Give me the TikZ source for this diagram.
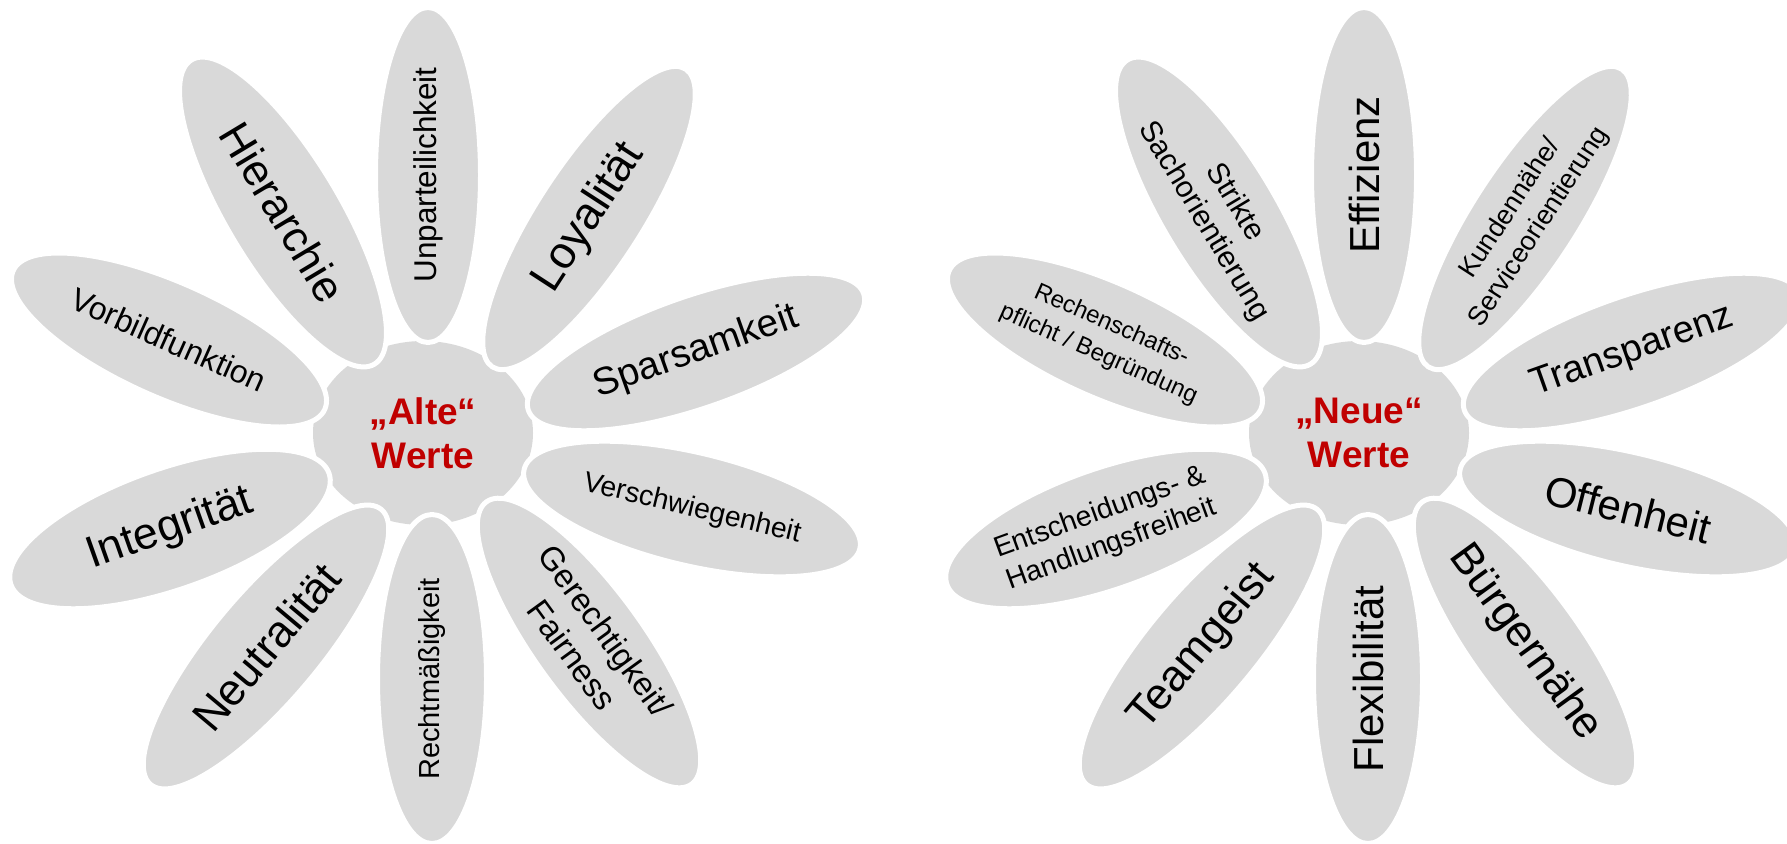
\documentclass[tikz,border=0pt]{standalone}
\usepackage{fontspec}
\setmainfont{Liberation Sans}[Ligatures=NoCommon]
\usetikzlibrary{shapes.geometric}
\definecolor{petalgray}{HTML}{D9D9D9}
\definecolor{valred}{HTML}{C00000}
\newcommand\fsz[2]{\fontsize{#1}{#2}\selectfont}
\tikzset{
  petal/.style={ellipse, fill=petalgray, draw=white, line width=5pt, inner sep=0pt},
  lbl/.style={align=center, inner sep=0pt, text=black},
  hub/.style={ellipse, fill=petalgray, draw=none, inner sep=0pt, minimum width=220pt, minimum height=184pt},
  hubtext/.style={align=center, inner sep=0pt, text=valred, font=\fsz{37}{44}\bfseries},
}
\begin{document}
\begin{tikzpicture}[x=1pt,y=-1pt]
\useasboundingbox (0,0) rectangle (1787,843);
\fill[white] (0,0) rectangle (1787,843);
\clip (0,0) rectangle (1787,843);

% ---------------- left flower ----------------
\node[hub] (hubL) at (423,433) {};
\node[petal, minimum width=335pt, minimum height=105pt, rotate=90]    (pL1)  at (428,175) {};
\node[petal, minimum width=355pt, minimum height=105pt, rotate=57]    (pL2)  at (589,218) {};
\node[petal, minimum width=355pt, minimum height=112pt, rotate=19.2]  (pL3)  at (696,352) {};
\node[petal, minimum width=345pt, minimum height=113pt, rotate=-13.3] (pL4)  at (692,509) {};
\node[petal, minimum width=349pt, minimum height=109pt, rotate=-54]   (pL5)  at (589,643) {};
\node[petal, minimum width=329pt, minimum height=109pt, rotate=90]    (pL6)  at (432,679) {};
\node[petal, minimum width=359pt, minimum height=109pt, rotate=50]    (pL7)  at (266,647) {};
\node[petal, minimum width=337pt, minimum height=121pt, rotate=19.3]  (pL8)  at (170,529) {};
\node[petal, minimum width=341pt, minimum height=115pt, rotate=-24]   (pL9)  at (169,340) {};
\node[petal, minimum width=355pt, minimum height=113pt, rotate=-59]   (pL10) at (283,212) {};

\node[hubtext] (hL) at (hubL.center) {„Alte“\\Werte};
\node[lbl, font=\fsz{31.5}{38}, rotate=90]  (tL1)  at (pL1.center)  {Unparteilichkeit};
\node[lbl, font=\fsz{45}{54},   rotate=57]  (tL2)  at (pL2.center)  {Loyalität};
\node[lbl, font=\fsz{38.5}{46}, rotate=19.5]  (tL3)  at (pL3.center)  {Sparsamkeit};
\node[lbl, font=\fsz{28.4}{34}, rotate=-13.5] (tL4)  at (pL4.center)  {Verschwiegenheit};
\node[lbl, font=\fsz{33}{41},   rotate=-54] (tL5)  at (pL5.center)  {Gerechtigkeit/\\Fairness};
\node[lbl, font=\fsz{29}{35},   rotate=90]  (tL6)  at (pL6.center)  {Rechtmäßigkeit};
\node[lbl, font=\fsz{44.5}{53}, rotate=50]  (tL7)  at (pL7.center)  {Neutralität};
\node[lbl, font=\fsz{44.5}{53}, rotate=19.5]  (tL8)  at (pL8.center)  {Integrität};
\node[lbl, font=\fsz{32}{38},   rotate=-24] (tL9)  at (pL9.center)  {Vorbildfunktion};
\node[lbl, font=\fsz{44}{53},   rotate=-59] (tL10) at (pL10.center) {Hierarchie};

% ---------------- right flower ----------------
\node[hub] (hubR) at (1359,433) {};
\node[petal, minimum width=335pt, minimum height=105pt, rotate=90]    (pR1)  at (1364,175) {};
\node[petal, minimum width=355pt, minimum height=105pt, rotate=57]    (pR2)  at (1525,218) {};
\node[petal, minimum width=355pt, minimum height=112pt, rotate=19.2]  (pR3)  at (1632,352) {};
\node[petal, minimum width=345pt, minimum height=113pt, rotate=-13.3] (pR4)  at (1628,509) {};
\node[petal, minimum width=349pt, minimum height=109pt, rotate=-54]   (pR5)  at (1525,643) {};
\node[petal, minimum width=329pt, minimum height=109pt, rotate=90]    (pR6)  at (1368,679) {};
\node[petal, minimum width=359pt, minimum height=109pt, rotate=50]    (pR7)  at (1202,647) {};
\node[petal, minimum width=337pt, minimum height=121pt, rotate=19.3]  (pR8)  at (1106,529) {};
\node[petal, minimum width=341pt, minimum height=115pt, rotate=-24]   (pR9)  at (1105,340) {};
\node[petal, minimum width=355pt, minimum height=113pt, rotate=-59]   (pR10) at (1219,212) {};

\node[hubtext] (hR) at (hubR.center) {„Neue“\\Werte};
\node[lbl, font=\fsz{42}{50},   rotate=90]  (tR1)  at (pR1.center)  {Effizienz};
\node[lbl, font=\fsz{27}{34},   rotate=57]  (tR2)  at (pR2.center)  {Kundennähe/\\Serviceorientierung};
\node[lbl, font=\fsz{38}{46},   rotate=19.5]  (tR3)  at (pR3.center)  {Transparenz};
\node[lbl, font=\fsz{42}{50},   rotate=-14] (tR4)  at (pR4.center)  {Offenheit};
\node[lbl, font=\fsz{44}{53},   rotate=-54] (tR5)  at (pR5.center)  {Bürgernähe};
\node[lbl, font=\fsz{42}{50},   rotate=90]  (tR6)  at (pR6.center)  {Flexibilität};
\node[lbl, font=\fsz{44}{53},   rotate=50]  (tR7)  at (pR7.center)  {Teamgeist};
\node[lbl, font=\fsz{28.4}{34}, rotate=20]  (tR8)  at (pR8.center)  {Entscheidungs- \&\\Handlungsfreiheit};
\node[lbl, font=\fsz{24}{32},   rotate=-24] (tR9)  at (pR9.center)  {Rechenschafts-\\pflicht / Begründung};
\node[lbl, font=\fsz{30}{36},   rotate=-59] (tR10) at (pR10.center) {Strikte\\Sachorientierung};
\end{tikzpicture}
\end{document}
